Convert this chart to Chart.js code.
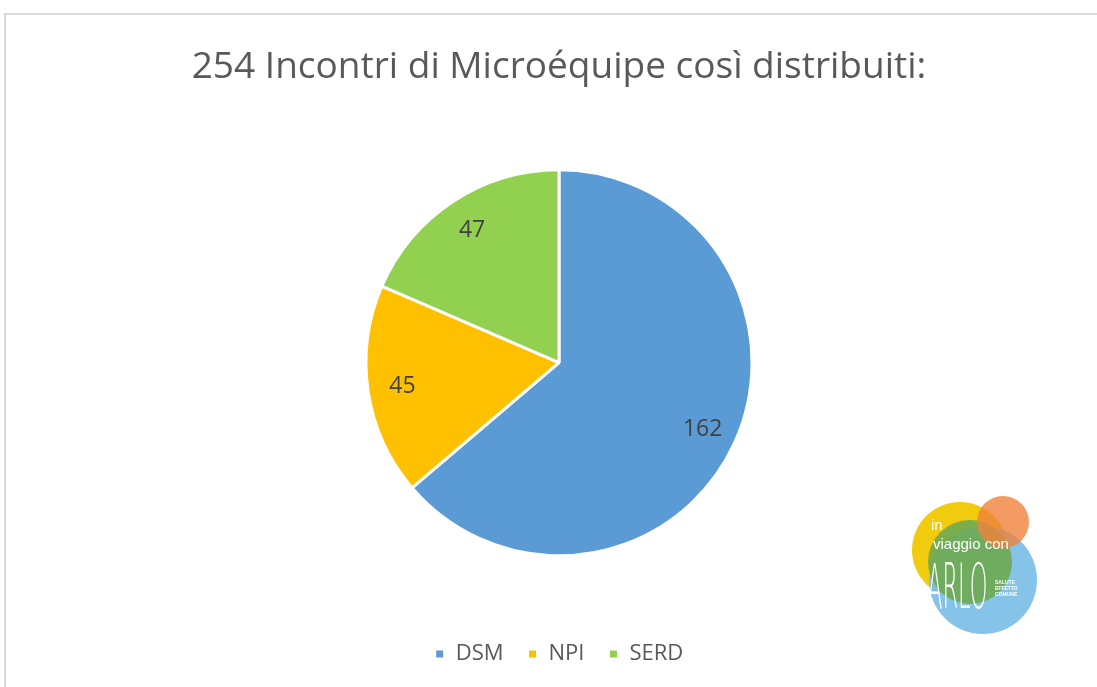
<!DOCTYPE html>
<html>
<head>
<meta charset="utf-8">
<script src="https://cdn.jsdelivr.net/npm/chart.js@4"></script>
<style>
  html, body { margin: 0; padding: 0; background: #fff; overflow: hidden; }
  #frame {
    position: absolute; left: 4px; top: 13px; width: 1110px; height: 690px;
    border-left: 2px solid #d9d9d9; border-top: 2px solid #d9d9d9;
  }
  #wrap { position: absolute; left: 0; top: 0; width: 1106px; height: 672px; }
</style>
</head>
<body>
<div id="frame"><div id="wrap"><canvas id="pie"></canvas></div></div>
<script>
  const categories = ['DSM', 'NPI', 'SERD'];
  const values = [162, 45, 47];
  const colors = ['#5b9bd5', '#ffc000', '#92d050'];
  const titleText = '254 Incontri di Microéquipe così distribuiti:';

  // labels inside slices
  const sliceLabels = {
    id: 'sliceLabels',
    afterDatasetsDraw(chart) {
      const ctx = chart.ctx;
      const meta = chart.getDatasetMeta(0);
      ctx.save();
      ctx.font = '23px "Open Sans", sans-serif';
      ctx.fillStyle = '#404040';
      ctx.textAlign = 'center';
      ctx.textBaseline = 'middle';
      meta.data.forEach(function (arc, i) {
        const mid = (arc.startAngle + arc.endAngle) / 2;
        const r = arc.outerRadius * 0.82;
        ctx.fillText(values[i], arc.x + Math.cos(mid) * r, arc.y + Math.sin(mid) * r);
      });
      ctx.restore();
    }
  };

  // logo in the corner
  const logo = {
    id: 'logo',
    afterDraw(chart) {
      const ctx = chart.ctx;
      const ox = -6, oy = -15;
      function circle(x, y, r, c) {
        ctx.beginPath();
        ctx.arc(x + ox, y + oy, r, 0, Math.PI * 2);
        ctx.fillStyle = c;
        ctx.fill();
      }
      ctx.save();
      circle(960, 550, 48, 'rgba(240,200,0,0.95)');
      circle(983, 580, 54, 'rgba(120,190,230,0.9)');
      circle(970, 562, 42, 'rgba(110,170,80,0.9)');
      circle(1003, 522, 26, 'rgba(240,130,60,0.8)');
      ctx.fillStyle = '#fff';
      ctx.font = '15px "Liberation Sans", sans-serif';
      ctx.textBaseline = 'alphabetic';
      ctx.fillText('in', 931 + ox, 530 + oy);
      ctx.fillText('viaggio con', 933 + ox, 549 + oy);
      ctx.save();
      ctx.translate(927 + ox, 608 + oy);
      ctx.scale(0.75, 2.1);
      ctx.font = '300 30px "DejaVu Sans", sans-serif';
      ctx.fillText('ARLO', 0, 0);
      ctx.restore();
      ctx.font = 'bold 5px sans-serif';
      ctx.fillText('SALUTE', 995 + ox, 584 + oy);
      ctx.fillText('EFFETTO', 995 + ox, 590 + oy);
      ctx.fillText('COMUNE', 995 + ox, 596 + oy);
      ctx.restore();
    }
  };

  const data = {
    labels: categories,
    datasets: [{
      data: values,
      backgroundColor: colors,
      borderColor: '#ffffff',
      borderWidth: 3,
      hoverOffset: 0
    }]
  };

  const config = {
    type: 'pie',
    data: data,
    options: {
      responsive: true,
      maintainAspectRatio: false,
      animation: false,
      radius: 193,
      layout: { padding: { top: 0, bottom: 12 } },
      plugins: {
        title: {
          display: true,
          text: titleText,
          color: '#595959',
          font: { family: '"Open Sans", sans-serif', size: 37, weight: 'normal' },
          padding: { top: 30, bottom: 17 }
        },
        legend: {
          position: 'bottom',
          labels: {
            color: '#595959',
            font: { family: '"Open Sans", sans-serif', size: 22 },
            boxWidth: 10,
            boxHeight: 10,
            padding: 24
          }
        },
        tooltip: { enabled: false }
      }
    },
    plugins: [sliceLabels, logo]
  };

  var pieChart = new Chart(document.getElementById('pie'), config);
</script>
</body>
</html>
